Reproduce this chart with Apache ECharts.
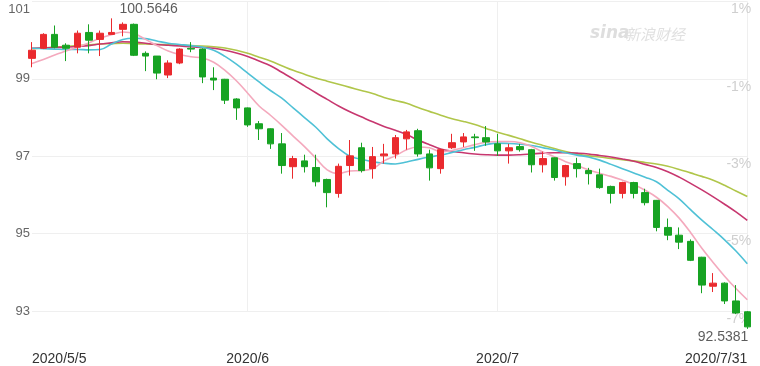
<!DOCTYPE html>
<html><head><meta charset="utf-8">
<script src="https://cdn.jsdelivr.net/npm/echarts@6/dist/echarts.min.js"></script>
<style>html,body{margin:0;padding:0;background:#fff}#c{width:760px;height:366px}</style>
</head><body><div id="c"></div>
<script>
const dates = ['2020/5/5','2020/5/6','2020/5/7','2020/5/8','2020/5/11','2020/5/12','2020/5/13','2020/5/14','2020/5/15','2020/5/18','2020/5/19','2020/5/20','2020/5/21','2020/5/22','2020/5/25','2020/5/26','2020/5/27','2020/5/28','2020/5/29',
'2020/6/1','2020/6/2','2020/6/3','2020/6/4','2020/6/5','2020/6/8','2020/6/9','2020/6/10','2020/6/11','2020/6/12','2020/6/15','2020/6/16','2020/6/17','2020/6/18','2020/6/19','2020/6/22','2020/6/23','2020/6/24','2020/6/25','2020/6/26','2020/6/29','2020/6/30',
'2020/7/1','2020/7/2','2020/7/3','2020/7/6','2020/7/7','2020/7/8','2020/7/9','2020/7/10','2020/7/13','2020/7/14','2020/7/15','2020/7/16','2020/7/17','2020/7/20','2020/7/21','2020/7/22','2020/7/23','2020/7/24','2020/7/27','2020/7/28','2020/7/29','2020/7/30','2020/7/31'];

const opens  = [99.53,99.79,100.15,99.87,99.82,100.20,100.02,100.15,100.28,100.41,99.66,99.59,99.10,99.41,99.79,99.77,99.02,98.99,98.48,98.25,97.84,97.71,97.32,96.73,96.88,96.71,96.40,96.04,96.76,97.22,96.68,97.01,97.06,97.45,97.66,97.06,96.68,97.22,97.37,97.50,97.48,97.32,97.14,97.25,97.17,96.78,96.96,96.47,96.81,96.63,96.52,96.22,96.04,96.32,96.06,95.86,95.16,94.96,94.80,94.39,93.64,93.72,93.26,92.98];
const closes = [99.74,100.15,99.82,99.79,100.18,100.00,100.18,100.20,100.41,99.61,99.59,99.15,99.41,99.77,99.77,99.05,98.97,98.45,98.25,97.81,97.71,97.32,96.76,96.94,96.73,96.34,96.06,96.74,97.01,96.63,96.99,97.06,97.48,97.63,97.06,96.70,97.17,97.35,97.50,97.48,97.37,97.14,97.22,97.17,96.78,96.94,96.45,96.76,96.68,96.55,96.19,96.04,96.32,96.04,95.80,95.16,94.96,94.78,94.31,93.67,93.72,93.26,92.95,92.59];
const lows   = [99.30,99.77,99.79,99.46,99.66,99.66,99.59,100.15,100.10,99.59,99.20,98.99,99.02,99.38,99.69,98.89,98.71,98.35,97.94,97.76,97.42,97.19,96.55,96.42,96.58,96.22,95.68,95.93,96.50,96.58,96.42,96.81,96.94,97.17,96.99,96.37,96.55,97.19,97.24,97.14,97.27,97.01,96.81,97.12,96.58,96.58,96.37,96.24,96.45,96.27,96.16,95.78,95.91,95.91,95.73,95.06,94.83,94.60,94.29,93.46,93.49,93.18,92.92,92.5381];
const highs  = [99.95,100.18,100.38,99.92,100.25,100.41,100.25,100.5646,100.46,100.43,99.71,99.59,99.48,99.79,99.95,99.79,99.30,99.00,98.50,98.26,97.91,97.72,97.60,97.01,97.04,97.04,96.42,96.81,97.42,97.35,97.24,97.32,97.55,97.68,97.71,97.17,97.19,97.58,97.60,97.58,97.78,97.58,97.32,97.32,97.19,97.12,96.97,96.78,96.96,96.70,96.68,96.24,96.34,96.34,96.16,95.87,95.39,95.16,94.85,94.40,93.98,93.74,93.67,93.00];

const ma5  = [99.40,99.50,99.62,99.72,99.82,99.93,100.05,100.14,100.21,100.17,100.02,99.86,99.72,99.63,99.57,99.54,99.43,99.22,98.95,98.63,98.30,98.06,97.80,97.52,97.25,96.95,96.65,96.55,96.62,96.63,96.68,96.88,97.01,97.17,97.24,97.22,97.12,97.15,97.22,97.30,97.36,97.38,97.38,97.35,97.25,97.11,96.99,96.86,96.76,96.65,96.56,96.48,96.38,96.27,96.12,95.94,95.70,95.40,95.03,94.62,94.25,93.90,93.58,93.29];
const ma10 = [99.79,99.78,99.77,99.76,99.76,99.75,99.76,99.90,100.02,100.05,100.04,99.98,99.92,99.89,99.86,99.82,99.74,99.58,99.38,99.15,98.92,98.70,98.50,98.25,98.00,97.75,97.45,97.20,97.00,96.92,96.86,96.82,96.80,96.85,96.92,96.98,97.03,97.10,97.17,97.23,97.30,97.34,97.33,97.31,97.28,97.22,97.16,97.09,97.03,96.98,96.90,96.79,96.68,96.57,96.46,96.34,96.12,95.90,95.62,95.35,95.10,94.84,94.55,94.22];
const ma20 = [99.79,99.80,99.81,99.82,99.84,99.86,99.90,99.93,99.96,99.95,99.92,99.89,99.87,99.85,99.83,99.81,99.79,99.74,99.67,99.58,99.46,99.34,99.17,99.00,98.82,98.64,98.47,98.30,98.15,98.02,97.89,97.77,97.67,97.56,97.42,97.30,97.19,97.13,97.09,97.06,97.04,97.03,97.03,97.04,97.06,97.08,97.09,97.09,97.08,97.06,97.02,96.98,96.93,96.87,96.79,96.71,96.60,96.46,96.30,96.13,95.95,95.76,95.56,95.34];
const ma30 = [99.78,99.80,99.82,99.84,99.86,99.88,99.90,99.91,99.92,99.91,99.90,99.89,99.88,99.87,99.86,99.85,99.83,99.80,99.74,99.66,99.56,99.46,99.34,99.22,99.12,99.02,98.94,98.86,98.78,98.70,98.62,98.52,98.44,98.37,98.26,98.16,98.06,97.97,97.90,97.82,97.72,97.62,97.54,97.45,97.36,97.28,97.20,97.12,97.06,97.01,96.98,96.94,96.91,96.88,96.84,96.80,96.74,96.66,96.57,96.48,96.38,96.25,96.10,95.96];

const xTickIndex = [0, 19, 41, 63];
const xTickText  = ['2020/5/5', '2020/6', '2020/7', '2020/7/31'];
const yMin = 93, yMax = 101, yStep = 2, baseValue = 100;
const maxIdx = 7, maxText = '100.5646';
const minIdx = 63, minText = '92.5381';

const kData = opens.map((o, i) => [o, closes[i], lows[i], highs[i]]);

const chart = echarts.init(document.getElementById('c'), null, {renderer: 'canvas'});
const FONT = 'Arial, "Liberation Sans", sans-serif';
const RED = '#ea2a2e', GREEN = '#17a323';

function maLine(data, color, z) {
  return {type: 'line', data: data, symbol: 'none', smooth: 0.4, z: z, clip: false,
    lineStyle: {color: color, width: 1.6}, silent: true};
}

function extremeLabel(idx, value, text, align, offset) {
  return {
    type: 'scatter', z: 7, clip: false, silent: true, symbolSize: 0,
    data: [[idx, value]],
    label: {show: true, position: 'inside', formatter: text, align: align, verticalAlign: 'middle',
      offset: offset, color: '#333', fontSize: 14, fontFamily: FONT}
  };
}

chart.setOption({
  animation: false,
  backgroundColor: '#fff',
  grid: {left: 32, right: 12.7, top: 1.5, bottom: 55},
  xAxis: {
    type: 'category', data: dates, boundaryGap: false,
    axisLine: {show: false}, axisTick: {show: false},
    splitLine: {show: true, interval: (i) => i === 19 || i === 41 || i === 63, lineStyle: {color: '#efefef', width: 1}},
    axisLabel: {
      interval: (i) => xTickIndex.indexOf(i) >= 0,
      formatter: (v, i) => xTickText[xTickIndex.indexOf(i)],
      color: '#333', fontSize: 14, fontFamily: FONT, margin: 41,
      alignMinLabel: 'left', alignMaxLabel: 'right', showMinLabel: true, showMaxLabel: true
    }
  },
  yAxis: [{
    type: 'value', min: yMin, max: yMax, interval: yStep, position: 'left',
    axisLine: {show: false}, axisTick: {show: false},
    splitLine: {lineStyle: {color: '#efefef', width: 1}},
    axisLabel: {
      color: '#666', fontSize: 13, fontFamily: FONT, margin: 2,
      formatter: (v) => v === yMax ? '{a|' + v + '}' : String(v),
      rich: {a: {color: '#666', fontSize: 13, fontFamily: FONT, padding: [15, 0, 0, 0]}}
    }
  }, {
    type: 'value', min: yMin, max: yMax, interval: yStep, position: 'right',
    axisLine: {show: false}, axisTick: {show: false}, splitLine: {show: false},
    axisLabel: {
      inside: true, margin: -4, verticalAlign: 'top', padding: [1, 0, 0, 0],
      color: '#cfcfcf', fontSize: 14, fontFamily: FONT,
      formatter: (v) => Math.round((v - baseValue) / baseValue * 100) + '%'
    }
  }],
  graphic: [
    {type: 'text', left: 590, top: 25, silent: true, style: {text: 'sina', fill: '#dedede', font: 'italic bold 17px "DejaVu Sans", sans-serif'}},
    {type: 'text', left: 625, top: 27, silent: true, style: {text: '新浪财经', fill: '#e0e0e0', font: 'italic 15px "Noto Sans CJK SC", sans-serif'}}
  ],
  series: [
    maLine(ma30, '#b0c64a', 2),
    maLine(ma20, '#c7376f', 3),
    maLine(ma10, '#4fc1d6', 4),
    maLine(ma5, '#f4a9bd', 5),
    {
      type: 'candlestick', data: kData, barWidth: 7, z: 6, clip: false, silent: true,
      itemStyle: {color: RED, color0: GREEN, borderColor: RED, borderColor0: GREEN, borderWidth: 1}
    },
    extremeLabel(maxIdx, highs[maxIdx], maxText, 'left', [8, -9]),
    extremeLabel(minIdx, lows[minIdx], minText, 'right', [1, 8])
  ]
});
</script></body></html>
